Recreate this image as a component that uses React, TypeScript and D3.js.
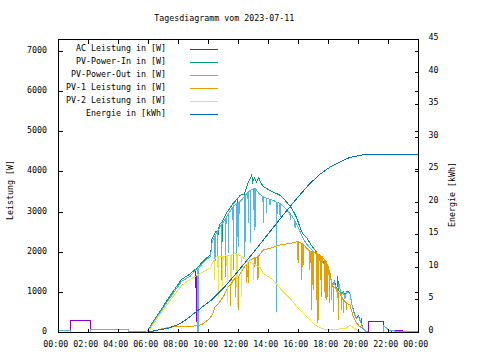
import React from "react";
import * as d3 from "d3";

type P = [number, number];

const title = "Tagesdiagramm vom 2023-07-11";
const xTickHours = [0, 2, 4, 6, 8, 10, 12, 14, 16, 18, 20, 22, 24];
const xTickLabels = ["00:00", "02:00", "04:00", "06:00", "08:00", "10:00", "12:00", "14:00", "16:00", "18:00", "20:00", "22:00", "00:00"];
const yLeftTicks = [0, 1000, 2000, 3000, 4000, 5000, 6000, 7000];
const yRightTicks = [0, 5, 10, 15, 20, 25, 30, 35, 40, 45];
const yLeftLabel = "Leistung [W]";
const yRightLabel = "Energie [kWh]";
const seriesNames = [
  "AC Leistung in [W]",
  "PV-Power-In in [W]",
  "PV-Power-Out in [W]",
  "PV-1 Leistung in [W]",
  "PV-2 Leistung in [W]",
  "Energie in [kWh]",
];
const seriesColors = ["#9400d3", "#009e73", "#56b4e9", "#e69f00", "#f0e442", "#0072b2"];

// PV-Power-Out [W] (hour, value)
const pvOut: P[] = [
  [0, 40], [0.79, 40], [0.79, 0], [2.12, 0], [2.12, 85], [4.67, 85], [4.67, 20], [5.9, 20],
  [6.1, 110], [6.3, 230], [6.7, 450], [7.1, 680], [7.5, 900], [7.9, 1110], [8.2, 1270], [8.77, 1400], [9.15, 1560], [9.25, 1580],
  [9.28, 0], [9.31, 0], [9.34, 1600],
  [9.65, 1740], [9.88, 1830], [10.15, 1890], [10.2, 2200],
  [10.41, 2400], [10.43, 1556], [10.45, 2420],
  [10.57, 2500], [10.59, 1640], [10.61, 2520],
  [10.77, 2630],
  [10.86, 2680], [10.88, 1307], [10.9, 2700],
  [11.0, 2760],
  [11.13, 2850], [11.15, 1390], [11.17, 2870],
  [11.3, 2950], [11.32, 1971], [11.34, 2970],
  [11.5, 3050],
  [11.63, 3130], [11.65, 1556], [11.67, 3150],
  [11.85, 3200], [11.87, 1474], [11.89, 3210],
  [11.92, 3215], [11.94, 2385], [11.96, 3220],
  [12.0, 3230], [12.02, 2136], [12.04, 3240],
  [12.2, 3300],
  [12.41, 3400], [12.43, 1887], [12.45, 3410],
  [12.63, 3500], [12.65, 2720], [12.67, 3510],
  [12.78, 3540], [12.8, 2220], [12.82, 3550],
  [12.97, 3580], [12.99, 3050], [13.01, 3585],
  [13.08, 3590], [13.1, 2550], [13.12, 3585],
  [13.4, 3450],
  [13.63, 3390], [13.65, 2720], [13.67, 3385],
  [13.86, 3340], [13.88, 2970], [13.9, 3335],
  [14.08, 3320], [14.1, 3175], [14.12, 3315],
  [14.32, 3290],
  [14.53, 3250], [14.55, 518], [14.57, 3245],
  [14.75, 3220], [14.77, 2883], [14.79, 3215],
  [15.1, 3100],
  [15.43, 2960], [15.45, 2800], [15.47, 2950],
  [15.7, 2820],
  [15.75, 2780], [15.77, 2600], [15.79, 2760],
  [15.88, 2700], [16.0, 2600], [16.3, 2350], [16.55, 2200], [16.8, 2090], [17.2, 1950], [17.5, 1800],
  [17.88, 1620], [18.1, 1420], [18.25, 1150], [18.4, 1250], [18.55, 1000], [18.7, 1200], [18.85, 950],
  [19.0, 1000], [19.1, 850], [19.2, 1000], [19.33, 1000], [19.45, 950], [19.55, 700], [19.7, 480],
  [19.85, 350], [20.0, 400], [20.15, 250], [20.3, 100], [20.5, 20], [20.6, 0],
  [21.65, 0], [21.67, 180], [22.05, 40], [24, 25],
];

// AC Leistung [W]: night segments and its own spike; daytime equals PV-Power-Out readings
const acMorning: P[] = [[0, 0], [0.79, 0], [0.79, 300], [2.12, 300], [2.12, 0], [5.85, 0]];
const acSpike: P[] = [[9.16, 1560], [9.17, 930], [9.18, 270], [9.2, 270], [9.22, 1000], [9.24, 1575]];
const acEvening: P[] = [[20.65, 0], [20.65, 280], [21.65, 280], [21.65, 0], [22.2, 0], [22.2, 50], [22.9, 50], [22.9, 0], [24, 0]];
const acPower: P[] = [
  ...acMorning,
  ...pvOut.filter(([h]) => h >= 5.9 && h <= 9.15),
  ...acSpike,
  ...pvOut.filter(([h]) => h >= 9.25 && h <= 20.6),
  ...acEvening,
];

// PV-Power-In [W]
const pvIn: P[] = [
  [0, 0], [5.85, 0], [6.1, 140], [6.3, 260], [6.7, 490], [7.1, 720], [7.5, 950], [7.9, 1160], [8.2, 1320],
  [8.77, 1460], [9.3, 1630], [9.65, 1780], [9.88, 1860], [10.15, 1930], [10.2, 2300], [10.5, 2520],
  [10.6, 2540], [10.62, 2150], [10.64, 2560], [10.77, 2700], [10.9, 2760], [10.92, 2250], [10.94, 2780],
  [11.2, 2980], [11.4, 3080], [11.65, 3220], [11.9, 3320], [11.92, 2500], [11.94, 3330], [12.1, 3420],
  [12.4, 3450], [12.6, 3700], [12.75, 3800], [12.88, 3920], [12.95, 3750], [13.05, 3850], [13.2, 3760],
  [13.35, 3850], [13.5, 3720], [13.65, 3640], [14.0, 3560], [14.32, 3500], [14.77, 3420], [15.0, 3340],
  [15.43, 3150], [15.6, 3060], [15.88, 2860], [16.1, 2620], [16.3, 2450], [16.55, 2370], [16.8, 2200],
  [17.2, 2000], [17.5, 1830], [17.88, 1650], [18.1, 1450], [18.25, 1180], [18.4, 1280], [18.55, 1030],
  [18.62, 1400], [18.66, 1050], [18.85, 980], [19.0, 1020], [19.1, 880], [19.2, 1020], [19.33, 1010],
  [19.45, 960], [19.55, 720], [19.7, 500], [19.85, 370], [20.0, 420], [20.15, 270], [20.2, 350],
  [20.25, 120], [20.3, 110], [20.5, 30], [20.6, 0], [24, 0],
];

// PV-1 Leistung [W]
const pv1: P[] = [
  [0, 0], [5.9, 0], [6.2, 20], [6.6, 60], [7.0, 100], [7.65, 140], [8.5, 150], [9.0, 160], [9.52, 190],
  [9.75, 250], [10.08, 350], [10.3, 480], [10.43, 640], [10.66, 720], [10.99, 890], [11.32, 1140],
  [11.45, 1180], [11.47, 660], [11.49, 1190],
  [11.65, 1307],
  [11.78, 1350], [11.8, 891], [11.82, 1360],
  [11.99, 1400], [12.01, 560], [12.03, 1410],
  [12.32, 1600],
  [12.5, 1680], [12.52, 1230], [12.54, 1690], [12.62, 1720], [12.64, 1230], [12.66, 1730],
  [12.77, 1805],
  [13.08, 1860], [13.1, 1638], [13.12, 1865],
  [13.28, 1890], [13.3, 1307], [13.32, 1895],
  [13.65, 2054], [14.1, 2097], [14.77, 2178], [15.43, 2220], [15.88, 2260],
  [15.95, 2260], [15.97, 1730], [15.99, 2260],
  [16.18, 2225], [16.2, 1307], [16.22, 2220],
  [16.28, 2210], [16.3, 1638], [16.32, 2200],
  [16.55, 2097],
  [16.71, 2040], [16.73, 1556], [16.75, 2035],
  [16.83, 2025], [16.85, 560], [16.87, 2020],
  [16.95, 2015], [16.97, 1058], [16.99, 2012],
  [17.18, 1980], [17.2, 809], [17.22, 1975],
  [17.28, 1960], [17.3, 229], [17.32, 1955],
  [17.43, 1930], [17.45, 1307], [17.47, 1920],
  [17.53, 1900], [17.55, 891], [17.57, 1890],
  [17.65, 1850],
  [17.75, 1800], [17.77, 860], [17.79, 1790],
  [17.88, 1750], [17.9, 809], [17.92, 1700],
  [18.03, 1600], [18.05, 735], [18.07, 1550],
  [18.1, 1474],
  [18.18, 1300], [18.2, 809], [18.22, 1250],
  [18.3, 1140], [18.32, 518], [18.34, 1140],
  [18.5, 1100],
  [18.63, 1000], [18.65, 311], [18.67, 990],
  [18.77, 976],
  [18.86, 900], [18.88, 560], [18.9, 880],
  [18.97, 820], [18.99, 478], [19.01, 809],
  [19.18, 740], [19.2, 560], [19.22, 727],
  [19.43, 685], [19.65, 393], [19.88, 229], [20.1, 144], [20.32, 105], [20.55, 20], [20.7, 0], [24, 0],
];

// PV-2 Leistung [W]
const pv2: P[] = [
  [0, 0], [5.8, 0], [6.1, 60], [6.3, 200], [6.7, 420], [7.1, 620], [7.5, 830], [7.9, 1020], [8.2, 1170],
  [8.77, 1320], [9.3, 1440], [9.88, 1560], [10.15, 1620], [10.32, 1780],
  [10.38, 1800], [10.4, 1300], [10.42, 1820],
  [10.5, 1880],
  [10.63, 1890], [10.65, 890], [10.67, 1895],
  [10.93, 1900], [10.95, 1100], [10.97, 1900],
  [11.23, 1910], [11.25, 727], [11.27, 1915],
  [11.48, 1925], [11.5, 1225], [11.52, 1930],
  [11.8, 1970],
  [11.86, 1960], [11.88, 1140], [11.9, 1955],
  [11.92, 1955], [11.94, 642], [11.96, 1950],
  [12.18, 1900], [12.2, 891], [12.22, 1895],
  [12.5, 1805],
  [12.58, 1790], [12.6, 1556], [12.62, 1785],
  [12.98, 1710], [13.0, 1307], [13.02, 1705],
  [13.43, 1620], [13.65, 1474], [14.32, 1307], [14.77, 1100], [15.2, 934], [15.65, 760], [15.88, 642],
  [16.55, 393], [17.1, 187], [17.43, 120], [17.6, 90], [18.0, 80], [18.5, 80], [18.8, 90], [19.2, 110],
  [19.43, 187], [19.55, 150], [19.7, 110], [19.9, 60], [20.1, 20], [20.3, 0], [24, 0],
];

// Energie [kWh] (right axis)
const energy: P[] = [
  [0, 0], [5.9, 0], [6.08, 0.12], [6.63, 0.38], [7.3, 0.65], [7.97, 1.2], [8.4, 1.8], [8.85, 2.6],
  [9.3, 3.4], [9.75, 4.2], [10.2, 5.0], [11.0, 6.8], [12.0, 9.5], [13.0, 12.3], [14.0, 15.2],
  [15.0, 18.1], [16.0, 20.9], [16.77, 22.9], [17.43, 24.3], [18.1, 25.4], [18.77, 26.2], [19.43, 26.9],
  [20.3, 27.3], [23.9, 27.3], [24, 27.4],
];

const FONT = "'DejaVu Sans Mono', 'Liberation Mono', monospace";
const FS = 8.3;

export default function App() {
  const left = 58.5, right = 418.5, top = 39.5, bottom = 332.5;
  const x = d3.scaleLinear().domain([0, 24]).range([left, right]);
  const yL = d3.scaleLinear().domain([0, 7300]).range([bottom, top]);
  const yR = d3.scaleLinear().domain([0, 45]).range([bottom, top]);
  const lineL = d3.line<P>().x((d) => x(d[0])).y((d) => yL(d[1]));
  const lineR = d3.line<P>().x((d) => x(d[0])).y((d) => yR(d[1]));
  const tick = 4;
  const snap = (v: number) => Math.round(v - 0.5) + 0.5;

  const leftSeries: P[][] = [acPower, pvIn, pvOut, pv1, pv2];

  return (
    <svg
      width={480}
      height={360}
      viewBox="0 0 480 360"
      style={{ position: "absolute", left: 0, top: 0, display: "block", background: "#fff" }}
      fontFamily={FONT}
      fontSize={FS}
    >
      <rect x={0} y={0} width={480} height={360} fill="#fff" />
      <defs>
        <clipPath id="plotclip">
          <rect x={left} y={top} width={right - left} height={bottom - top} />
        </clipPath>
      </defs>

      <text x={154.3} y={20.5} fill="#000">{title}</text>

      {/* data */}
      <g clipPath="url(#plotclip)" fill="none" strokeWidth={1} shapeRendering="crispEdges">
        {leftSeries.map((s, i) => (
          <path key={i} d={lineL(s) || ""} stroke={seriesColors[i]} />
        ))}
        <path d={lineR(energy) || ""} stroke={seriesColors[5]} />
      </g>

      {/* border */}
      <rect x={left} y={top} width={right - left} height={bottom - top} fill="none" stroke="#000" strokeWidth={1} shapeRendering="crispEdges" />

      {/* ticks */}
      <g stroke="#000" strokeWidth={1} shapeRendering="crispEdges">
        {xTickHours.map((h, i) => (
          <g key={i}>
            <line x1={x(h)} x2={x(h)} y1={bottom} y2={bottom - tick} />
            <line x1={x(h)} x2={x(h)} y1={top} y2={top + tick} />
          </g>
        ))}
        {yLeftTicks.map((v, i) => (
          <g key={i}>
            <line x1={left} x2={left + tick} y1={snap(yL(v))} y2={snap(yL(v))} />
            <line x1={right} x2={right - tick} y1={snap(yL(v))} y2={snap(yL(v))} />
          </g>
        ))}
        {yRightTicks.map((v, i) => (
          <line key={i} x1={right} x2={right - tick} y1={snap(yR(v))} y2={snap(yR(v))} />
        ))}
      </g>

      {/* tick labels */}
      <g fill="#000">
        {xTickHours.map((h, i) => (
          <text key={i} x={x(h) - 2.8} y={346.5} textAnchor="middle">{xTickLabels[i]}</text>
        ))}
        {yLeftTicks.map((v, i) => (
          <text key={i} x={47} y={yL(v) + 1.5} textAnchor="end">{String(v)}</text>
        ))}
        {yRightTicks.map((v, i) => (
          <text key={i} x={428.5} y={yR(v) + 0.5} textAnchor="start">{String(v)}</text>
        ))}
        <text transform={`translate(12.5,190) rotate(-90)`} textAnchor="middle">{yLeftLabel}</text>
        <text transform={`translate(455,194.5) rotate(-90)`} textAnchor="middle">{yRightLabel}</text>
      </g>

      {/* legend */}
      <g>
        {seriesNames.map((name, i) => {
          const ly = 49.5 + 13 * i;
          return (
            <g key={i}>
              <text x={166} y={ly + 1} textAnchor="end" fill="#000">{name}</text>
              <line x1={190} x2={218} y1={ly} y2={ly} stroke={seriesColors[i]} strokeWidth={1} shapeRendering="crispEdges" />
            </g>
          );
        })}
      </g>
    </svg>
  );
}
